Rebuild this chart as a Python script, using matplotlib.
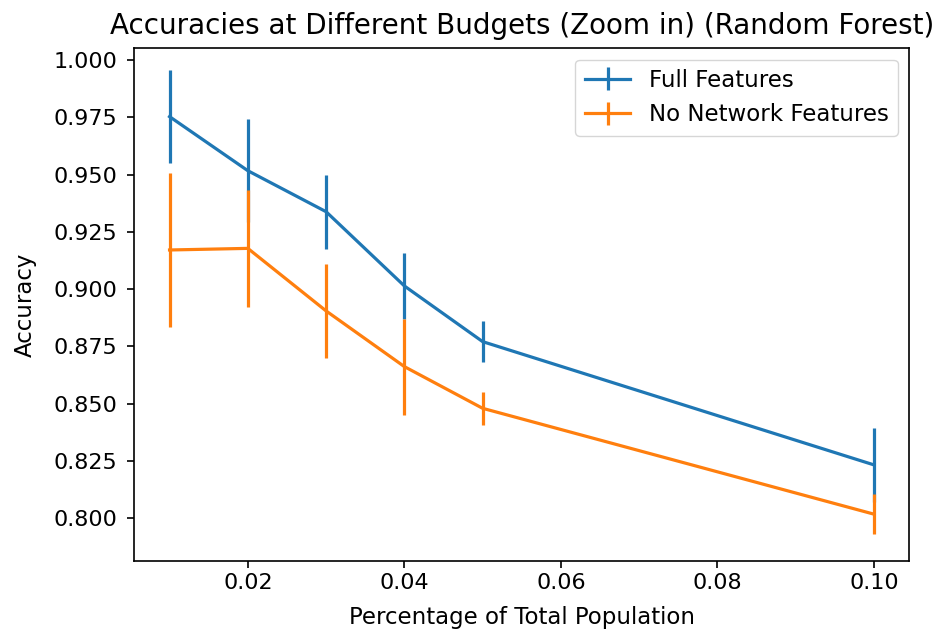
import matplotlib
matplotlib.use('Agg')
import matplotlib.pyplot as plt

budgets = [0.01, 0.02, 0.03, 0.04, 0.05, 0.10]

full_acc = [0.9753, 0.9517, 0.9338, 0.9014, 0.8771, 0.8233]
full_err = [0.0204, 0.0226, 0.0161, 0.0144, 0.0091, 0.0161]

nonet_acc = [0.9171, 0.9178, 0.8905, 0.8662, 0.8480, 0.8018]
nonet_err = [0.0336, 0.0254, 0.0204, 0.0209, 0.0071, 0.0087]

plt.rcParams['font.family'] = ['DejaVu Sans']
plt.rcParams['axes.linewidth'] = 1.2

fig = plt.figure(figsize=(9.4, 6.36), dpi=100)
ax = fig.add_axes([0.1429, 0.1184, 0.8244, 0.8056])

ax.errorbar(budgets, full_acc, yerr=full_err, label='Full Features', color='#1f77b4', lw=2.3, elinewidth=2.3)
ax.errorbar(budgets, nonet_acc, yerr=nonet_err, label='No Network Features', color='#ff7f0e', lw=2.3, elinewidth=2.3)

ax.set_ylim(0.7815, 1.0051)
ax.set_xticks([0.02, 0.04, 0.06, 0.08, 0.10])
ax.tick_params(labelsize=16, width=1.2, length=5)
ax.tick_params(axis='y', pad=7)

ax.set_xlabel('Percentage of Total Population', fontsize=16.5, labelpad=10)
ax.set_ylabel('Accuracy', fontsize=16.5, labelpad=12)
ax.set_title('Accuracies at Different Budgets (Zoom in) (Random Forest)', fontsize=20, pad=10)
ax.legend(loc='upper right', fontsize=16.5)

plt.savefig('out.png', dpi=100)
